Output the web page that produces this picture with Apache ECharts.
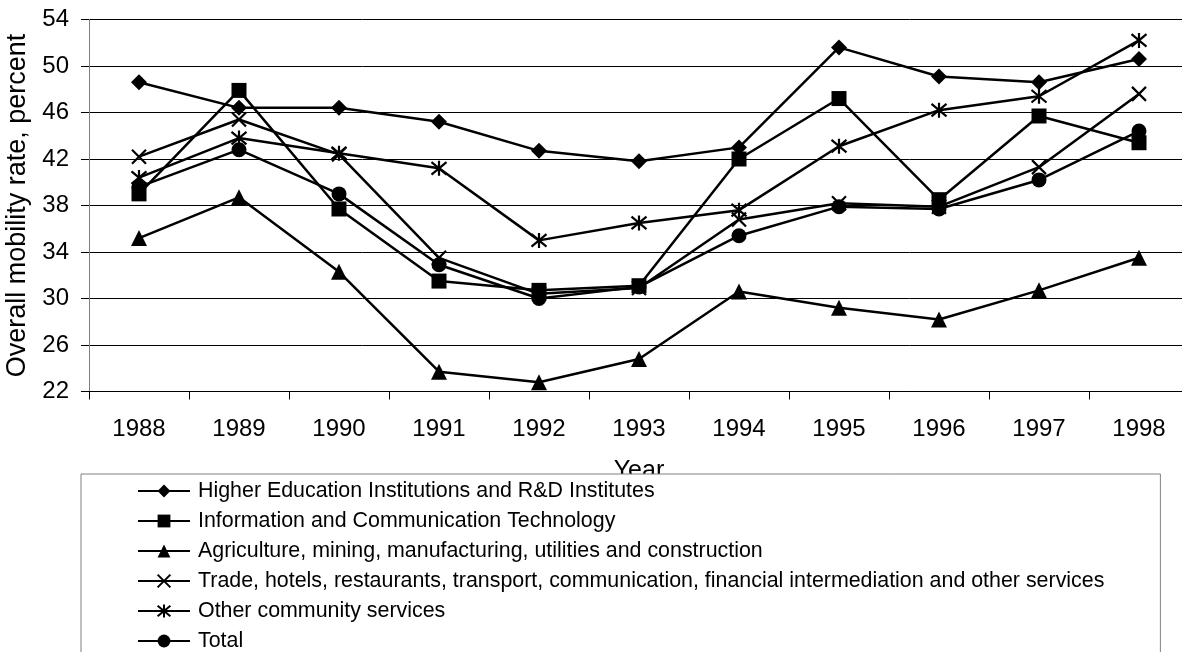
<!DOCTYPE html>
<html>
<head>
<meta charset="utf-8">
<script src="https://cdn.jsdelivr.net/npm/echarts@6/dist/echarts.min.js"></script>
<style>
html,body{margin:0;padding:0;background:#fff;}
#chart{width:1182px;height:652px;}
</style>
</head>
<body>
<div id="chart"></div>
<script>
var years = ['1988','1989','1990','1991','1992','1993','1994','1995','1996','1997','1998'];
var higherEdu = [48.6, 46.4, 46.4, 45.2, 42.7, 41.8, 43.0, 51.6, 49.1, 48.6, 50.6];
var ict = [39.0, 47.9, 37.7, 31.5, 30.7, 31.1, 42.0, 47.2, 38.5, 45.7, 43.4];
var agriculture = [35.2, 38.7, 32.3, 23.7, 22.8, 24.8, 30.6, 29.2, 28.2, 30.7, 33.5];
var trade = [42.2, 45.4, 42.4, 33.5, 30.4, 30.9, 36.8, 38.2, 37.9, 41.3, 47.6];
var community = [40.4, 43.8, 42.5, 41.2, 35.0, 36.5, 37.6, 43.1, 46.2, 47.4, 52.2];
var total = [39.6, 42.8, 39.0, 32.9, 30.0, 31.0, 35.4, 37.9, 37.7, 40.2, 44.4];

var seriesNames = [
  'Higher Education Institutions and R&D Institutes',
  'Information and Communication Technology',
  'Agriculture, mining, manufacturing, utilities and construction',
  'Trade, hotels, restaurants, transport, communication, financial intermediation and other services',
  'Other community services',
  'Total'
];
var seriesData = [higherEdu, ict, agriculture, trade, community, total];
var xPath = 'path://M0,0L10,10M10,0L0,10';
var starPath = 'path://M0,0L10,10M10,0L0,10M5,-1L5,11';
var symbols = ['diamond', 'rect', 'triangle', xPath, starPath, 'circle'];
var symbolSizes = [16, 15, 16, 14, 15, 15];

var chart = echarts.init(document.getElementById('chart'));
var series = seriesNames.map(function (name, i) {
  var isStroke = (i === 3 || i === 4);
  return {
    name: name,
    type: 'line',
    data: seriesData[i],
    symbol: symbols[i],
    symbolSize: symbolSizes[i],
    showAllSymbol: true,
    lineStyle: { color: '#000', width: 2.5 },
    itemStyle: isStroke ? { color: '#000', borderColor: '#000', borderWidth: 2.2 } : { color: '#000', borderWidth: 0 },
    emphasis: { disabled: true },
    animation: false
  };
});

chart.setOption({
  animation: false,
  textStyle: { fontFamily: 'Liberation Sans, Arial, sans-serif' },
  grid: { left: 89, width: 1100, top: 19.5, height: 372, containLabel: false, outerBoundsMode: 'none' },
  xAxis: {
    type: 'category',
    data: years,
    boundaryGap: true,
    name: 'Year',
    nameLocation: 'middle',
    nameGap: 67,
    nameTextStyle: { fontSize: 25, color: '#000', fontFamily: 'Liberation Sans' },
    axisLine: { lineStyle: { color: '#000', width: 1 } },
    axisTick: { show: true, interval: 0, length: 8, inside: false, lineStyle: { color: '#000' } },
    axisLabel: { fontSize: 24, color: '#000', margin: 26, interval: 0, fontFamily: 'Liberation Sans' },
    splitLine: { show: false }
  },
  yAxis: {
    type: 'value',
    min: 22,
    max: 54,
    interval: 4,
    name: 'Overall mobility rate, percent',
    nameLocation: 'middle',
    nameGap: 54,
    nameTextStyle: { fontSize: 27, color: '#000', fontFamily: 'Liberation Sans' },
    axisLine: { show: true, lineStyle: { color: '#808080', width: 1 } },
    axisTick: { show: true, length: 8, lineStyle: { color: '#000' } },
    axisLabel: { fontSize: 24, color: '#000', margin: 20, fontFamily: 'Liberation Sans' },
    splitLine: { show: true, lineStyle: { color: '#000', width: 1 } }
  },
  legend: {
    orient: 'vertical',
    left: 81,
    top: 474,
    height: 400,
    padding: [6, 56, 30, 56],
    itemWidth: 52,
    itemHeight: 16,
    itemGap: 8,
    backgroundColor: '#fff',
    borderColor: '#808080',
    borderWidth: 1,
    borderRadius: 0,
    selectedMode: false,
    textStyle: { fontSize: 21.4, color: '#000', fontFamily: 'Liberation Sans', lineHeight: 22, padding: [0, 0, 0, 3] },
    data: seriesNames
  },
  series: series
});
</script>
</body>
</html>
